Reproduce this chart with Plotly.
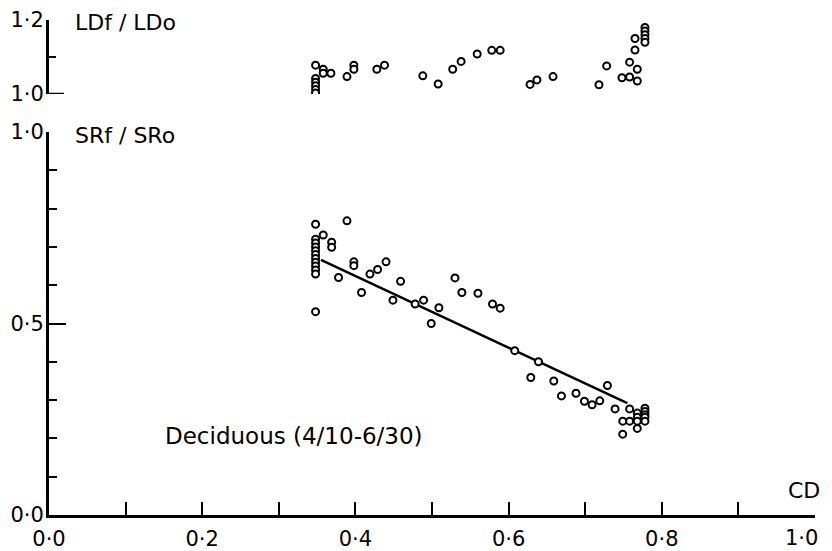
import plotly.graph_objects as go

# ---- data ----
ld_x = [0.348, 0.348, 0.348, 0.348, 0.348, 0.348, 0.358, 0.358, 0.368, 0.389, 0.398, 0.398,
        0.428, 0.438, 0.488, 0.508, 0.527, 0.538, 0.559, 0.578, 0.589, 0.628, 0.637, 0.658,
        0.718, 0.728, 0.748, 0.758, 0.758, 0.768, 0.768, 0.765, 0.765,
        0.778, 0.778, 0.778, 0.778, 0.778]
ld_y = [1.078, 1.042, 1.032, 1.022, 1.012, 1.003, 1.067, 1.056, 1.056, 1.047, 1.078, 1.067,
        1.067, 1.078, 1.049, 1.027, 1.067, 1.088, 1.108, 1.118, 1.118, 1.026, 1.038, 1.047,
        1.025, 1.076, 1.044, 1.086, 1.046, 1.067, 1.035, 1.119, 1.150,
        1.180, 1.170, 1.160, 1.150, 1.140]

sr_x = [0.348] * 12 + [
    0.358, 0.369, 0.369, 0.378, 0.389, 0.398, 0.398, 0.408, 0.419, 0.429, 0.440, 0.449,
    0.459, 0.478, 0.489, 0.499, 0.509, 0.530, 0.539, 0.560, 0.579, 0.589, 0.608, 0.629,
    0.639, 0.659, 0.669, 0.688, 0.699, 0.709, 0.719, 0.729, 0.739, 0.758, 0.749, 0.758,
    0.749, 0.768, 0.768, 0.768, 0.768, 0.778, 0.778, 0.778, 0.778, 0.778]
sr_y = [0.759, 0.720, 0.710, 0.700, 0.690, 0.680, 0.670, 0.660, 0.650, 0.640, 0.629, 0.531,
        0.731, 0.712, 0.699, 0.620, 0.768, 0.661, 0.651, 0.581, 0.629, 0.641, 0.661, 0.561,
        0.610, 0.551, 0.561, 0.500, 0.541, 0.619, 0.581, 0.579, 0.551, 0.540, 0.429, 0.359,
        0.400, 0.350, 0.311, 0.318, 0.297, 0.288, 0.298, 0.338, 0.277, 0.277, 0.245, 0.245,
        0.211, 0.266, 0.255, 0.245, 0.226, 0.279, 0.270, 0.262, 0.255, 0.245]

fit_x = [0.355, 0.755]
fit_y = [0.666, 0.292]

x_tickvals = [0.0, 0.2, 0.4, 0.6, 0.8, 1.0]
x_ticktext = ["0·0", "0·2", "0·4", "0·6", "0·8", "1·0"]
sr_tickvals = [0.0, 0.5, 1.0]
sr_ticktext = ["0·0", "0·5", "1·0"]
ld_tickvals = [1.0, 1.2]
ld_ticktext = ["1·0", "1·2"]

FONT = "DejaVu Sans"

fig = go.Figure()
fig.add_trace(go.Scatter(x=fit_x, y=fit_y, mode="lines", yaxis="y",
                         line=dict(color="black", width=2.5), hoverinfo="skip"))
marker = dict(symbol="circle", size=7, color="white", line=dict(color="black", width=2))
fig.add_trace(go.Scatter(x=sr_x, y=sr_y, mode="markers", yaxis="y", marker=marker))
fig.add_trace(go.Scatter(x=ld_x, y=ld_y, mode="markers", yaxis="y2", marker=marker))

# page body has an 8px margin, so the figure is placed at (8, 8)
OFF = 8
W, H = 832 - OFF, 551 - OFF
left, right, top, bottom = 49 - OFF, 17, 20 - OFF, 36
plot_h = H - top - bottom  # 495
y_one_px = 132 - OFF
ld_lo_px = 94 - OFF
d1_top = (H - bottom - y_one_px) / plot_h
d2_bot = (H - bottom - ld_lo_px) / plot_h

# the last x label sits flush with the right edge in the reference -> annotation
axis_text = list(x_ticktext[:-1]) + [""]

fig.update_layout(
    width=W, height=H,
    margin=dict(l=left, r=right, t=top, b=bottom, pad=0, autoexpand=False),
    plot_bgcolor="white", paper_bgcolor="white",
    showlegend=False,
    font=dict(family=FONT, size=21, color="black"),
    xaxis=dict(range=[0, 1], showgrid=False, zeroline=False, showline=True,
               linecolor="black", linewidth=3, ticks="inside", ticklen=13,
               tickwidth=2, tickcolor="black",
               tickvals=x_tickvals, ticktext=axis_text, ticklabeloverflow="allow",
               minor=dict(dtick=0.1, ticks="inside", ticklen=13, tickwidth=2,
                          tickcolor="black", showgrid=False),
               anchor="y", ticklabelstandoff=3, automargin=False),
    yaxis=dict(range=[0, 1], domain=[0, d1_top], showgrid=False, zeroline=False,
               showline=True, linecolor="black", linewidth=3, ticks="inside",
               ticklen=17, tickwidth=2, tickcolor="black",
               tickvals=sr_tickvals, ticktext=sr_ticktext, ticklabeloverflow="allow",
               minor=dict(dtick=0.1, ticks="inside", ticklen=8, tickwidth=2,
                          tickcolor="black", showgrid=False),
               anchor="x", ticklabelstandoff=-2, automargin=False),
    yaxis2=dict(range=[1.0, 1.2], domain=[d2_bot, 1], showgrid=False, zeroline=False,
                showline=True, linecolor="black", linewidth=3, ticks="inside",
                ticklen=8, tickwidth=2, tickcolor="black",
                tickvals=ld_tickvals, ticktext=ld_ticktext, ticklabeloverflow="allow",
                minor=dict(dtick=0.1, ticks="inside", ticklen=7, tickwidth=2,
                           tickcolor="black", showgrid=False),
                anchor="x", ticklabelstandoff=-2, automargin=False),
)

fig.add_annotation(x=x_tickvals[-1], y=0, xref="x", yref="y", text=x_ticktext[-1],
                   showarrow=False, xanchor="right", yanchor="top", xshift=5, yshift=-9,
                   font=dict(family=FONT, size=21, color="black"))

# longer base tick of the upper panel at 1.0
fig.add_shape(type="line", xref="x", yref="y2", x0=0, x1=15 / 766, y0=1.0, y1=1.0,
              line=dict(color="black", width=2.5))

ann_font = dict(family=FONT, size=22, color="black")
fig.add_annotation(x=0.031, y=1.192, xref="x", yref="y2", text="LDf / LDo",
                   showarrow=False, xanchor="left", yanchor="middle", font=ann_font)
fig.add_annotation(x=0.031, y=0.990, xref="x", yref="y", text="SRf / SRo",
                   showarrow=False, xanchor="left", yanchor="middle", font=ann_font)
fig.add_annotation(x=0.149, y=0.206, xref="x", yref="y", text="Deciduous (4/10-6/30)",
                   showarrow=False, xanchor="left", yanchor="middle",
                   font=dict(family=FONT, size=23, color="black"))
fig.add_annotation(x=0.962, y=0.065, xref="x", yref="y", text="CD",
                   showarrow=False, xanchor="left", yanchor="middle", font=ann_font)

fig.write_html("out.html")
